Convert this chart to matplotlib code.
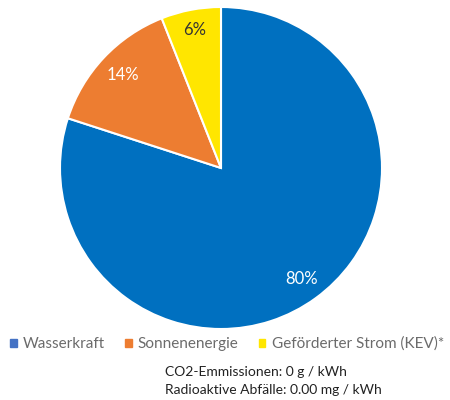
import numpy as np
import matplotlib.pyplot as plt
from matplotlib.patches import Patch

plt.rcParams['font.family'] = ['Lato', 'DejaVu Sans']

# Daten
labels = ['Wasserkraft', 'Sonnenenergie', 'Geförderter Strom (KEV)*']
werte = [80, 14, 6]
farben = ['#0070C0', '#ED7D31', '#FFE600']
legend_farben = ['#4472C4', '#ED7D31', '#FFE600']
text_farben = ['white', 'white', '#333333']
label_abstand = [0.85, 0.84, 0.87]
info = ['CO2-Emmissionen: 0 g / kWh', 'Radioaktive Abfälle: 0.00 mg / kWh']

fig = plt.figure(figsize=(4.5, 4), dpi=100)
ax = fig.add_axes([60/450, 1-329/400, 322/450, 322/400])

wedges, texts, autotexts = ax.pie(werte, colors=farben, startangle=90, counterclock=False,
                                  autopct='%d%%', pctdistance=0.84,
                                  wedgeprops=dict(edgecolor='white', linewidth=1.5))
for w, t, c, r in zip(wedges, autotexts, text_farben, label_abstand):
    mitte = np.deg2rad((w.theta1 + w.theta2) / 2)
    t.set_position((r * np.cos(mitte), r * np.sin(mitte)))
    t.set_color(c)
    t.set_fontsize(12)
ax.set_xlim(-1, 1)
ax.set_ylim(-1, 1)
ax.set_aspect('equal')

handles = [Patch(color=c) for c in legend_farben]
fig.legend(handles, labels, loc='center left', bbox_to_anchor=(10/450, 1-344/400), ncol=3,
           frameon=False, handlelength=0.45, handleheight=0.45, handletextpad=0.4,
           columnspacing=1.3, borderaxespad=0, borderpad=0,
           prop={'size': 11}, labelcolor='#6b6b6b')

for i, zeile in enumerate(info):
    fig.text(165/450, 1-(372+18*i)/400, zeile, fontsize=10,
             color='#222222', va='center', ha='left')

plt.savefig('out.png', dpi=100)
